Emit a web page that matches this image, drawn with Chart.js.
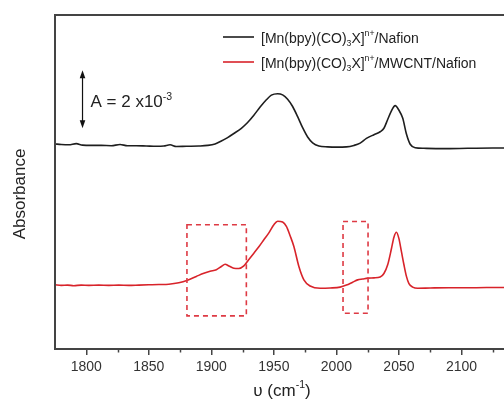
<!DOCTYPE html>
<html>
<head>
<meta charset="utf-8">
<script src="https://cdn.jsdelivr.net/npm/chart.js@4"></script>
<style>
    html, body { margin: 0; padding: 0; background: #fff; overflow: hidden; }
    #wrap { width: 540px; height: 401px; }
</style>
</head>
<body>
<div id="wrap"><canvas id="irChart" width="540" height="401"></canvas></div>
<script>
// wavenumbers (cm-1) and absorbance (x10^-3, offset stacked)
const blackWn = [1775, 1780, 1786, 1792, 1797, 1804, 1812, 1820, 1827, 1833, 1840, 1848, 1856, 1862, 1867, 1872, 1880, 1890, 1897, 1903,
    1908, 1913, 1918, 1924, 1929, 1934, 1939, 1944, 1948, 1953, 1957, 1961, 1965, 1969, 1973, 1977, 1981, 1986, 1993, 2000,
    2008, 2014, 2019, 2024, 2030, 2035, 2038, 2041, 2044, 2047, 2050, 2053, 2056, 2059, 2063, 2070, 2085, 2105, 2125, 2150];
const blackAbs = [7.06, 7.04, 7.03, 7.07, 7.02, 7.01, 7.01, 7.00, 7.04, 7.00, 7.00, 6.99, 6.98, 6.99, 7.03, 6.97, 6.98, 6.99, 7.01, 7.06,
    7.16, 7.28, 7.42, 7.60, 7.80, 8.05, 8.33, 8.58, 8.74, 8.79, 8.75, 8.60, 8.35, 8.00, 7.62, 7.30, 7.10, 6.99, 6.96, 6.95,
    6.96, 7.01, 7.09, 7.25, 7.38, 7.48, 7.60, 7.90, 8.20, 8.38, 8.22, 7.95, 7.40, 7.05, 6.93, 6.91, 6.90, 6.91, 6.92, 6.92];

const redWn = [1775, 1780, 1785, 1790, 1796, 1802, 1810, 1818, 1826, 1834, 1842, 1850, 1858, 1866, 1874, 1881, 1888, 1894, 1899, 1904,
    1908, 1911, 1914, 1918, 1922, 1926, 1930, 1934, 1938, 1942, 1946, 1950, 1953, 1957, 1960, 1963, 1966, 1970, 1974, 1979,
    1987, 1995, 2003, 2008, 2013, 2017, 2021, 2025, 2030, 2035, 2038, 2041, 2044, 2046, 2048, 2050, 2052, 2054, 2056, 2058,
    2061, 2065, 2075, 2090, 2110, 2130, 2150];
const redAbs = [2.21, 2.19, 2.20, 2.18, 2.20, 2.19, 2.20, 2.19, 2.20, 2.19, 2.20, 2.21, 2.22, 2.23, 2.28, 2.37, 2.50, 2.61, 2.68, 2.73,
    2.84, 2.92, 2.86, 2.78, 2.77, 2.86, 3.08, 3.30, 3.52, 3.76, 4.00, 4.28, 4.40, 4.37, 4.22, 3.90, 3.53, 2.84, 2.38, 2.17,
    2.09, 2.10, 2.13, 2.20, 2.30, 2.38, 2.41, 2.44, 2.45, 2.48, 2.60, 2.90, 3.45, 3.85, 4.02, 3.80, 3.35, 2.90, 2.50, 2.25,
    2.13, 2.09, 2.10, 2.11, 2.11, 2.12, 2.12];

const seriesNames = ["[Mn(bpy)(CO)3X]n+/Nafion", "[Mn(bpy)(CO)3X]n+/MWCNT/Nafion"];
const xTicks = [1800, 1850, 1900, 1950, 2000, 2050, 2100];
const xMinorTicks = [1825, 1875, 1925, 1975, 2025, 2075, 2125];
// dashed highlight boxes: [wnFrom, wnTo, absLow, absHigh]
const boxes = [[1880.5, 1928, 1.14, 4.28], [2005.3, 2025.3, 1.23, 4.39]];
// scale bar: 2 x10^-3 absorbance
const scaleBar = { wn: 1797, from: 7.6, to: 9.6 };

const FONT = "'Liberation Sans', Arial, sans-serif";
const BLACK = "#1e1e1e";
const RED = "#d8232a";

function toPoints(xs, ys) {
    return xs.map((x, i) => ({ x: x, y: ys[i] }));
}

// draws text pieces with sub/superscripts, returns end x
function drawRich(ctx, parts, x, y, size) {
    parts.forEach(p => {
        let fs = size, dy = 0;
        if (p.sub) { fs = size * 0.62; dy = size * 0.22; }
        if (p.sup) { fs = size * 0.62; dy = -size * 0.45; }
        ctx.font = fs + "px " + FONT;
        ctx.fillText(p.t, x, y + dy);
        x += ctx.measureText(p.t).width;
    });
    return x;
}

function richWidth(ctx, parts, size) {
    let w = 0;
    parts.forEach(p => {
        const fs = (p.sub || p.sup) ? size * 0.62 : size;
        ctx.font = fs + "px " + FONT;
        w += ctx.measureText(p.t).width;
    });
    return w;
}

function legendParts(tail) {
    return [{ t: "[Mn(bpy)(CO)" }, { t: "3", sub: true }, { t: "X]" }, { t: "n+", sup: true }, { t: tail }];
}

const decorPlugin = {
    id: "decor",
    afterDraw(chart) {
        const ctx = chart.ctx;
        const area = chart.chartArea;
        const xs = chart.scales.x;
        const ys = chart.scales.y;
        ctx.save();

        // frame
        ctx.strokeStyle = "#444";
        ctx.lineWidth = 2;
        ctx.strokeRect(area.left, area.top, area.right - area.left, area.bottom - area.top);

        // minor ticks
        ctx.lineWidth = 1.5;
        xMinorTicks.forEach(v => {
            const px = Math.round(xs.getPixelForValue(v)) + 0.5;
            ctx.beginPath();
            ctx.moveTo(px, area.bottom);
            ctx.lineTo(px, area.bottom + 3.5);
            ctx.stroke();
        });

        // dashed boxes
        ctx.strokeStyle = "#de3a44";
        ctx.lineWidth = 1.6;
        ctx.setLineDash([5, 4]);
        boxes.forEach(b => {
            const x1 = xs.getPixelForValue(b[0]);
            const x2 = xs.getPixelForValue(b[1]);
            const y1 = ys.getPixelForValue(b[3]);
            const y2 = ys.getPixelForValue(b[2]);
            ctx.strokeRect(x1, y1, x2 - x1, y2 - y1);
        });
        ctx.setLineDash([]);

        // scale bar arrow
        const ax = xs.getPixelForValue(scaleBar.wn);
        const aTop = ys.getPixelForValue(scaleBar.to);
        const aBot = ys.getPixelForValue(scaleBar.from);
        ctx.strokeStyle = "#111";
        ctx.fillStyle = "#111";
        ctx.lineWidth = 1.2;
        ctx.beginPath();
        ctx.moveTo(ax, aTop + 4);
        ctx.lineTo(ax, aBot - 4);
        ctx.stroke();
        ctx.beginPath();
        ctx.moveTo(ax, aTop);
        ctx.lineTo(ax - 2.8, aTop + 8);
        ctx.lineTo(ax + 2.8, aTop + 8);
        ctx.closePath();
        ctx.fill();
        ctx.beginPath();
        ctx.moveTo(ax, aBot);
        ctx.lineTo(ax - 2.8, aBot - 8);
        ctx.lineTo(ax + 2.8, aBot - 8);
        ctx.closePath();
        ctx.fill();

        ctx.fillStyle = "#222";
        ctx.textBaseline = "alphabetic";
        ctx.textAlign = "left";
        drawRich(ctx, [{ t: "A = 2 x10" }, { t: "-3", sup: true }], ax + 8, (aTop + aBot) / 2 + 8, 17);

        // legend
        const lx = 223;
        [[37, BLACK, "/Nafion"], [62, RED, "/MWCNT/Nafion"]].forEach(row => {
            ctx.strokeStyle = row[1];
            ctx.lineWidth = 1.6;
            ctx.beginPath();
            ctx.moveTo(lx, row[0]);
            ctx.lineTo(lx + 31, row[0]);
            ctx.stroke();
            ctx.fillStyle = "#222";
            drawRich(ctx, legendParts(row[2]), lx + 38, row[0] + 5.5, 14);
        });

        // x axis title
        const xt = [{ t: "\u03c5 (cm" }, { t: "-1", sup: true }, { t: ")" }];
        const xw = richWidth(ctx, xt, 17);
        drawRich(ctx, xt, 282 - xw / 2, 396, 17);

        // y axis title
        ctx.translate(25, (area.top + area.bottom) / 2 + 12);
        ctx.rotate(-Math.PI / 2);
        ctx.textAlign = "center";
        ctx.font = "17px " + FONT;
        ctx.fillText("Absorbance", 0, 0);

        ctx.restore();
    }
};

const ctx = document.getElementById("irChart").getContext("2d");
new Chart(ctx, {
    type: "line",
    data: {
        datasets: [
            {
                label: seriesNames[0],
                data: toPoints(blackWn, blackAbs),
                borderColor: BLACK,
                borderWidth: 1.6,
                pointRadius: 0,
                cubicInterpolationMode: "monotone",
                fill: false
            },
            {
                label: seriesNames[1],
                data: toPoints(redWn, redAbs),
                borderColor: RED,
                borderWidth: 1.6,
                pointRadius: 0,
                cubicInterpolationMode: "monotone",
                fill: false
            }
        ]
    },
    options: {
        responsive: false,
        animation: false,
        events: [],
        layout: { padding: { left: 55, top: 15, right: 16, bottom: 0 } },
        plugins: {
            legend: { display: false },
            tooltip: { enabled: false }
        },
        scales: {
            x: {
                type: "linear",
                min: 1775,
                max: 2150,
                afterBuildTicks: scale => { scale.ticks = xTicks.map(v => ({ value: v })); },
                afterFit: scale => { scale.height = 52; },
                border: { display: false },
                grid: { drawOnChartArea: false, drawTicks: true, tickLength: 6, color: "#444", lineWidth: 1.5 },
                ticks: {
                    color: "#333",
                    padding: 4,
                    maxRotation: 0,
                    autoSkip: false,
                    font: { family: FONT, size: 14 },
                    callback: value => String(value)
                }
            },
            y: {
                display: false,
                min: 0,
                max: 11.5
            }
        }
    },
    plugins: [decorPlugin]
});
</script>
</body>
</html>
